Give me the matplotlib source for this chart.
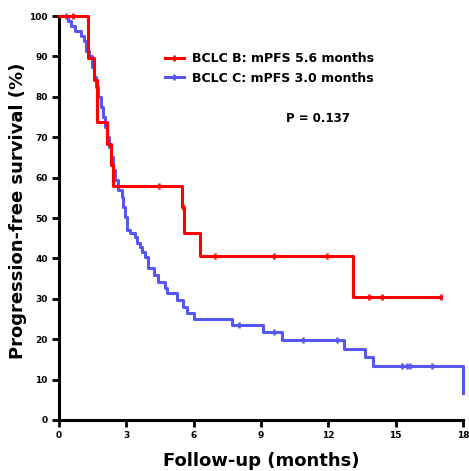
import numpy as np
import matplotlib
matplotlib.use("Agg")
import matplotlib.pyplot as plt

# BCLC B: event times (months) and survival (%) after each step
b_times = [0, 1.30, 1.58, 1.70, 2.15, 2.30, 2.40, 5.50, 5.55, 6.28, 13.12, 17.02]
b_surv = [100, 89.5, 84.2, 73.7, 68.4, 63.2, 57.9, 52.6, 46.4, 40.6, 30.4, 30.4]
b_cens_t = [0.62, 4.46, 5.52, 6.95, 9.58, 11.96, 13.79, 14.41, 17.02]
b_cens_s = [100, 57.9, 52.6, 40.6, 40.6, 40.6, 30.4, 30.4, 30.4]

# BCLC C
c_times = [0, 0.40, 0.55, 0.70, 1.00, 1.10, 1.20, 1.35, 1.45, 1.55, 1.65, 1.75,
           1.85, 1.95, 2.05, 2.15, 2.25, 2.32, 2.42, 2.50, 2.64, 2.79, 2.87,
           2.94, 3.02, 3.16, 3.39, 3.46, 3.61, 3.69, 3.83, 3.98, 4.23, 4.43,
           4.72, 4.80, 5.25, 5.51, 5.69, 6.03, 7.71, 9.10, 9.94, 12.70, 13.64,
           14.01, 18.0]
c_surv = [100, 98.8, 97.5, 96.3, 95.0, 93.8, 91.3, 90.0, 87.5, 85.0, 82.5, 80.0,
          77.5, 75.0, 72.5, 70.0, 67.5, 65.0, 61.9, 59.4, 56.9, 55.3, 52.8,
          50.3, 47.0, 46.2, 45.4, 43.7, 42.9, 41.7, 40.4, 37.5, 35.9, 34.2,
          32.6, 31.4, 29.7, 28.0, 26.6, 24.9, 23.4, 21.8, 19.9, 17.6, 15.5,
          13.4, 6.8]
c_cens_t = [0.30, 8.03, 9.60, 10.89, 12.40, 15.30, 15.52, 15.64, 16.60]
c_cens_s = [100, 23.4, 21.8, 19.9, 19.9, 13.4, 13.4, 13.4, 13.4]

labels = ["BCLC B: mPFS 5.6 months", "BCLC C: mPFS 3.0 months"]
p_text = "P = 0.137"

RED = "#ff0000"
BLUE = "#5757f2"

plt.rcParams['font.family'] = ['DejaVu Sans']

fig = plt.figure(figsize=(4.69, 4.71), dpi=100)
ax = fig.add_axes([0.1258, 0.1083, 0.8614, 0.8577])

ax.step(c_times, c_surv, where='post', color=BLUE, lw=2.2, clip_on=False, zorder=3)
ax.plot(c_cens_t, c_cens_s, '|', color=BLUE, ms=4.5, mew=1.8, clip_on=False, zorder=3)
ax.step(b_times, b_surv, where='post', color=RED, lw=2.2, clip_on=False, zorder=4)
ax.plot(b_cens_t, b_cens_s, '|', color=RED, ms=4.5, mew=1.8, clip_on=False, zorder=4)

ax.set_xlim(0, 18)
ax.set_ylim(0, 100)
ax.set_xticks(np.arange(0, 19, 3))
ax.set_yticks(np.arange(0, 101, 10))
for s in ['top', 'right']:
    ax.spines[s].set_visible(False)
for s in ['left', 'bottom']:
    ax.spines[s].set_linewidth(2.2)
ax.tick_params(width=2, length=5, labelsize=6.5, pad=3)
for lab in ax.get_xticklabels() + ax.get_yticklabels():
    lab.set_fontweight('bold')

ax.set_xlabel("Follow-up (months)", fontsize=13, fontweight='bold')
ax.xaxis.set_label_coords(0.5, -0.079)
ax.set_ylabel("Progression-free survival (%)", fontsize=13, fontweight='bold')
ax.yaxis.set_label_coords(-0.079, 0.517)

h1, = ax.plot([], [], color=RED, lw=2.2, marker='|', ms=4.5, mew=1.8)
h2, = ax.plot([], [], color=BLUE, lw=2.2, marker='|', ms=4.5, mew=1.8)
ax.legend([h1, h2], labels, loc='upper left', bbox_to_anchor=(0.262, 0.91),
          frameon=False, numpoints=1, handlelength=1.5, handletextpad=0.7,
          labelspacing=0.5, borderaxespad=0, borderpad=0,
          prop={'weight': 'bold', 'size': 9})

ax.text(0.563, 0.746, p_text, transform=ax.transAxes, fontsize=8.5,
        fontweight='bold', va='center')

fig.savefig("out.png", dpi=100)
